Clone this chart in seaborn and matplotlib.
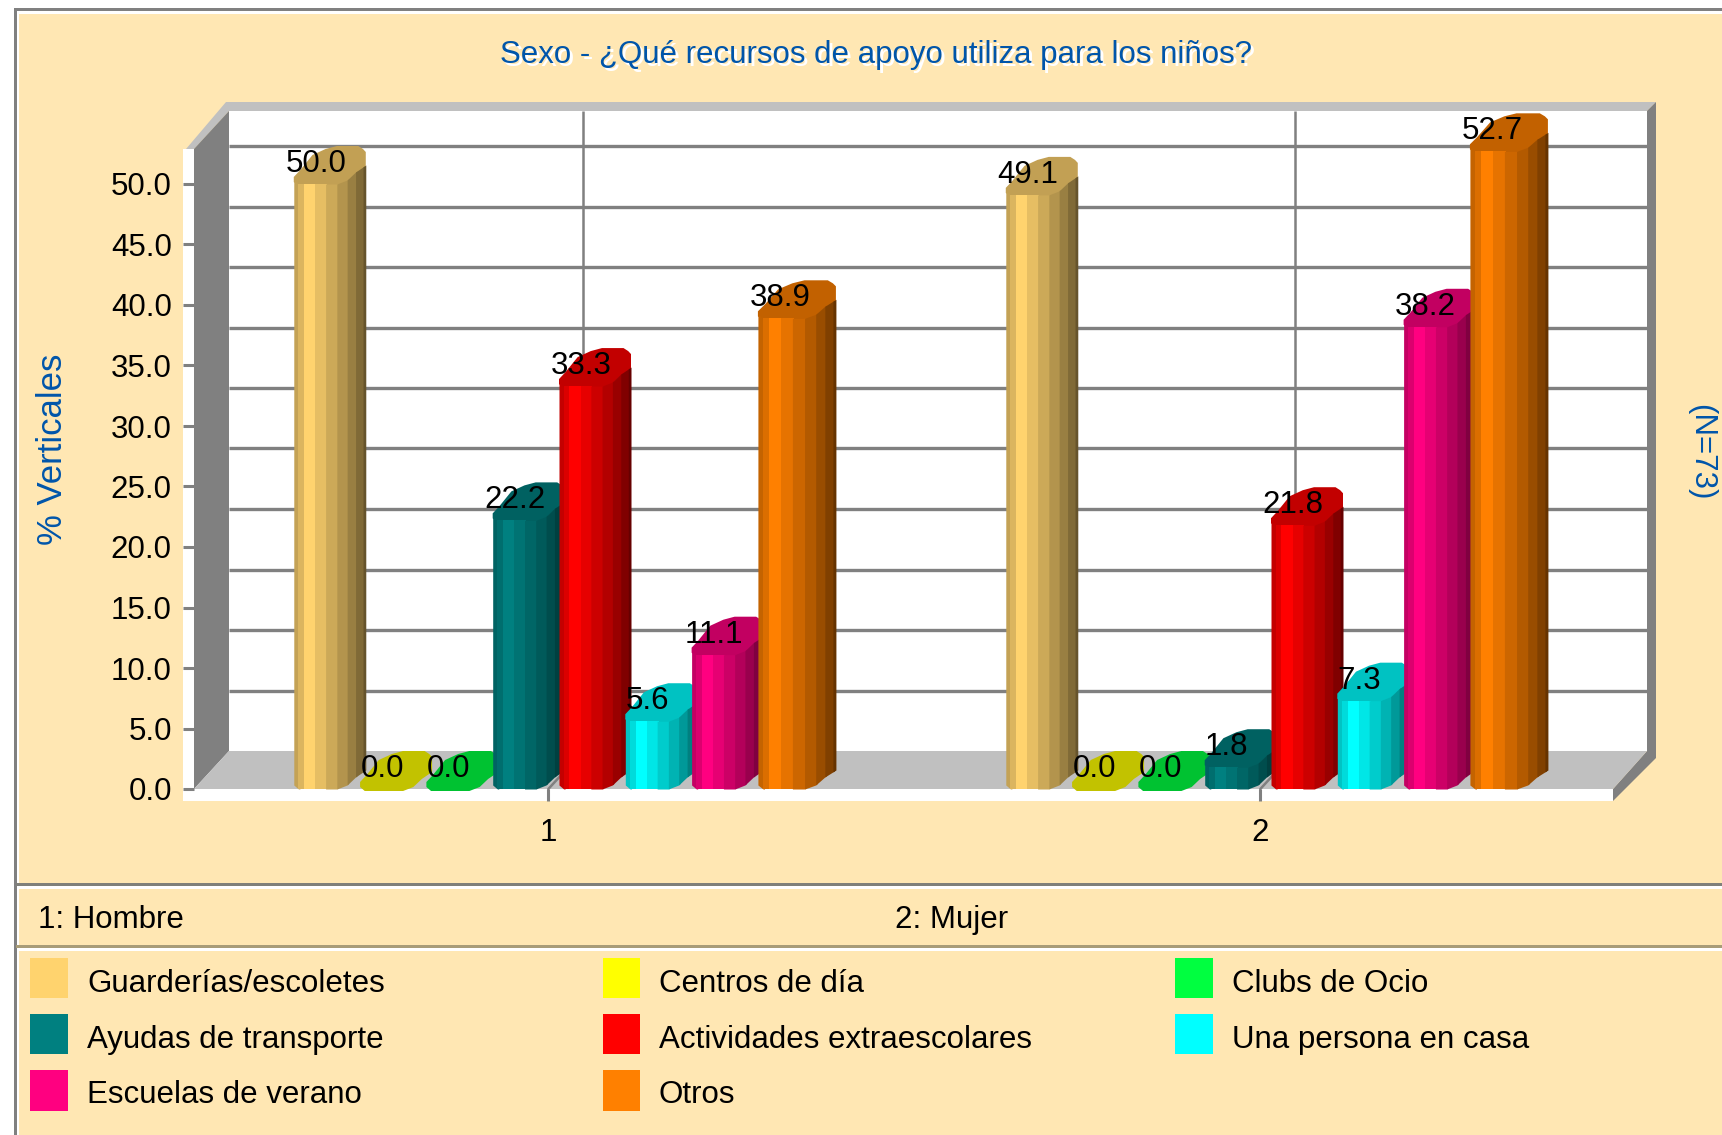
import numpy as np
import pandas as pd
import matplotlib.pyplot as plt
from matplotlib.colors import to_rgb
import seaborn as sns

grupos = ['1', '2']
recursos = ['Guarderías/escoletes', 'Centros de día', 'Clubs de Ocio',
            'Ayudas de transporte', 'Actividades extraescolares',
            'Una persona en casa', 'Escuelas de verano', 'Otros']
hombre = [50.0, 0.0, 0.0, 22.2, 33.3, 5.6, 11.1, 38.9]
mujer = [49.1, 0.0, 0.0, 1.8, 21.8, 7.3, 38.2, 52.7]
colores = ['#FFD36E', '#FFFF00', '#00FF40', '#008080',
           '#FF0000', '#00FFFF', '#FF0080', '#FF8000']
yticks = [0, 5, 10, 15, 20, 25, 30, 35, 40, 45, 50]

CREMA = '#FFE7B3'
GRIS = '#808080'
GRIS_CLARO = '#C0C0C0'
AZUL = '#0055AA'
W, H = 1722, 1135

sns.set_style('white')
plt.rcParams['font.family'] = ['Liberation Sans', 'DejaVu Sans']
plt.rcParams['font.size'] = 22.5
plt.rcParams['text.color'] = 'black'
plt.rcParams['xtick.labelcolor'] = 'black'
plt.rcParams['ytick.labelcolor'] = 'black'

df = pd.DataFrame({
    'grupo': np.repeat(grupos, len(recursos)),
    'recurso': recursos * 2,
    'pct': hombre + mujer,
})

fig = plt.figure(figsize=(W / 100, H / 100), dpi=100, facecolor='white')

# fondo en pixeles: marco, paneles y paredes del grafico 3D
bg = fig.add_axes([0, 0, 1, 1])
bg.set_xlim(0, W)
bg.set_ylim(H, 0)
bg.axis('off')

bg.fill([14, W, W, 14], [8, 8, H, H], color=GRIS, lw=0, aa=False)
bg.fill([17, W, W, 17], [11, 11, H, H], color='white', lw=0, aa=False)
bg.fill([19, W, W, 19], [14, 14, H, H], color=CREMA, lw=0, aa=False)
for y0, col in [(883, '#80807A'), (945, '#A89C78')]:
    bg.fill([16, W, W, 16], [y0, y0, y0 + 3, y0 + 3], color=col, lw=0, aa=False)
    bg.fill([19, W, W, 19], [y0 + 3, y0 + 3, y0 + 6, y0 + 6], color='white', lw=0, aa=False)

bg.fill([183, 1613, 1613, 183], [149, 149, 801, 801], color='white', lw=0, aa=False)
bg.fill([229, 1647, 1647, 229], [111, 111, 751, 751], color='white', lw=0, aa=False)
bg.fill([186, 226, 1656, 1647, 229, 194], [149, 102, 102, 111, 111, 149],
        color=GRIS_CLARO, lw=0)
bg.fill([194, 229, 229, 194], [149, 111, 751, 789], color=GRIS, lw=0)
bg.fill([1647, 1656, 1656, 1613, 1613, 1647], [111, 102, 758, 801, 789, 751],
        color=GRIS, lw=0)
bg.fill([194, 229, 1647, 1613], [789, 751, 751, 789], color=GRIS_CLARO, lw=0)

# el titulo lleva la sombra blanca del original
for dx, col in [(3, 'white'), (0, AZUL)]:
    bg.text(876 + dx, 63 + dx, 'Sexo - ¿Qué recursos de apoyo utiliza para los niños?',
            color=col, ha='center', va='baseline')
bg.text(53, 449, '% Verticales', color=AZUL, ha='center', va='center',
        rotation=90, fontsize=25)
bg.text(1701, 452, '(N=73)', color=AZUL, ha='center', va='center', rotation=270)

bg.text(38, 928, '1: Hombre', va='baseline')
bg.text(895, 928, '2: Mujer', va='baseline')

# leyenda
col_sw = [(30, 68), (603, 640), (1175, 1213)]
col_tx = [87, 659, 1232]
fil_sw = [(958, 998), (1014, 1054), (1070, 1111)]
fil_tx = [992, 1048, 1103]
for i, (nombre, col) in enumerate(zip(recursos, colores)):
    f, c = divmod(i, 3)
    x0, x1 = col_sw[c]
    y0, y1 = fil_sw[f]
    bg.fill([x0, x1, x1, x0], [y0, y0, y1, y1], color=col, lw=0, aa=False)
    bg.text(col_tx[c], fil_tx[f], nombre, va='baseline')

# ejes del grafico: 712 px por categoria, 12.1 px por unidad
PX_X = 1 / 712
PX_Y = 1 / 12.1
X_CERO = 559
ax = fig.add_axes([194 / W, 1 - 789 / H, (1613 - 194) / W, (789 - 149) / H])
ax.patch.set_visible(False)

sns.barplot(data=df, x='grupo', y='pct', hue='recurso', order=grupos, hue_order=recursos,
            palette=colores, width=0.745, gap=0, saturation=1, errorbar=None,
            legend=False, ax=ax)

ax.set_xlim((194 - X_CERO) * PX_X, (1613 - X_CERO) * PX_X)
ax.set_ylim(0, (789 - 149) * PX_Y)
ax.set_xlabel('')
ax.set_ylabel('')
sns.despine(ax=ax, left=True, bottom=True)

ax.set_yticks(yticks)
ax.set_yticklabels([f'{v:.1f}' for v in yticks])
pos_ticks = [-0.015, 0.985]
ax.set_xticks(pos_ticks)
ax.set_xticklabels(grupos)
ax.tick_params(axis='y', left=True, length=8, width=2.2, color=GRIS, pad=8)
ax.tick_params(axis='x', bottom=True, length=8.6, width=2.2, color=GRIS, pad=12)

# rejilla en la pared del fondo, desplazada por la profundidad
fondo_y = 38 * PX_Y
ax.hlines([v + fondo_y for v in yticks[1:]], (229 - X_CERO) * PX_X, (1647 - X_CERO) * PX_X,
          color=GRIS, lw=2.4, zorder=1, clip_on=False)
for t in pos_ticks:
    ax.vlines(t + 35 * PX_X, fondo_y, (789 - 111) * PX_Y, color=GRIS, lw=1.8, zorder=1,
              clip_on=False)
    ax.plot([t, t + 35 * PX_X], [0, fondo_y], color=GRIS, lw=1.8, zorder=1, clip_on=False)

# franjas del cilindro (fraccion del ancho y factor de luz)
FRANJAS = [0.065, 0.078, 0.156, 0.143, 0.156, 0.143, 0.117, 0.104, 0.038]
LUCES = [0.77, 0.86, 1.0, 0.9, 0.8, 0.7, 0.6, 0.5, 0.4]
# silueta frontal y trasera de la tapa, en px para un ancho de 77
FRENTE_X = [0, 5, 46, 57, 66, 77]
FRENTE_Y = [4, 0, 0, 4, 12, 19]
TAPA = [(0, 7), (3, 10), (7, 14), (20, 29), (34, 35), (46, 38), (69, 38), (74, 35), (77, 32)]


def cilindro(left, altura, ancho, color, z):
    rgb = np.array(to_rgb(color))
    esc = ancho / 77
    # la tapa va primero y las franjas se solapan para que no queden rayas blancas
    frente = [(x, y - 2) for x, y in zip(FRENTE_X[::-1], FRENTE_Y[::-1])]
    puntos = TAPA + frente
    ax.fill([left + p[0] * esc * PX_X for p in puntos],
            [altura + p[1] * PX_Y for p in puntos],
            color=rgb * 0.76, lw=0, clip_on=False, zorder=z)
    borde = np.cumsum([0] + FRANJAS) * 77
    for a, b, luz in zip(borde[:-1], borde[1:], LUCES):
        xs = np.linspace(a, min(b + 1.5, 77), 8)
        g = np.interp(xs, FRENTE_X, FRENTE_Y) * PX_Y
        ax.fill_between(left + xs * esc * PX_X, altura + g, g, color=rgb * luz, lw=0,
                        clip_on=False, zorder=z)


barras = []
for cont, col in zip(ax.containers, colores):
    for rect in cont:
        barras.append((rect, col))
barras.sort(key=lambda b: b[0].get_x())

for i, (rect, col) in enumerate(barras):
    rect.set_visible(False)
    ancho = 78 if col == colores[-1] else 72
    cilindro(rect.get_x(), rect.get_height(), ancho, col, 3 + i)

for rect, col in barras:
    ax.text(rect.get_x() + 22 * PX_X, rect.get_height() + 20 * PX_Y,
            f'{rect.get_height():.1f}', ha='center', va='center', zorder=50, clip_on=False)

fig.savefig('out.png', dpi=100)
